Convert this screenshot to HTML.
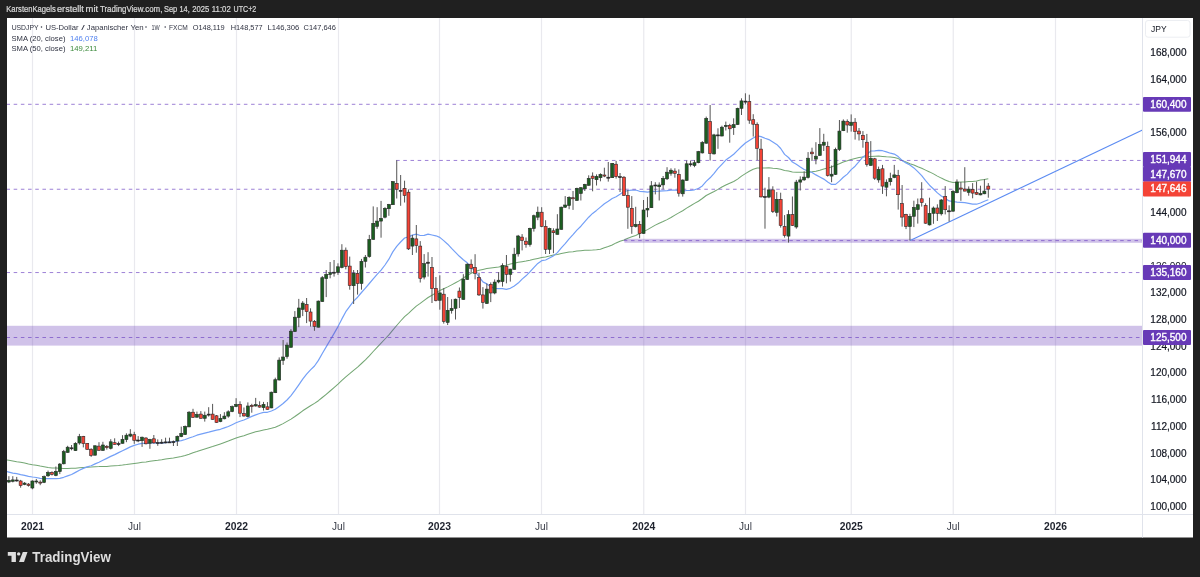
<!DOCTYPE html>
<html><head><meta charset="utf-8"><style>
html,body{margin:0;padding:0;background:#202020;width:1200px;height:577px;overflow:hidden;}
svg{display:block;will-change:transform;}
</style></head><body>
<svg width="1200" height="577" viewBox="0 0 1200 577">
<rect x="0" y="0" width="1200" height="577" fill="#202020"/><rect x="7" y="18" width="1186" height="519.5" fill="#ffffff"/><defs><clipPath id="pane"><rect x="7" y="18" width="1135.5" height="496.5"/></clipPath></defs><g stroke="#e9e9ee" stroke-width="1.2"><line x1="32.5" y1="18" x2="32.5" y2="514.5" /><line x1="134.5" y1="18" x2="134.5" y2="514.5" /><line x1="236.5" y1="18" x2="236.5" y2="514.5" /><line x1="338.5" y1="18" x2="338.5" y2="514.5" /><line x1="439.5" y1="18" x2="439.5" y2="514.5" /><line x1="541.5" y1="18" x2="541.5" y2="514.5" /><line x1="643.75" y1="18" x2="643.75" y2="514.5" /><line x1="745.5" y1="18" x2="745.5" y2="514.5" /><line x1="851.25" y1="18" x2="851.25" y2="514.5" /><line x1="953.25" y1="18" x2="953.25" y2="514.5" /><line x1="1055.5" y1="18" x2="1055.5" y2="514.5" /></g><g clip-path="url(#pane)"><polyline points="5.0,459.6 8.9,460.3 12.8,461.0 16.7,461.7 20.6,462.3 24.6,463.1 28.5,464.0 32.4,464.7 36.3,465.3 40.2,466.1 44.1,466.8 48.1,467.6 52.0,468.0 55.9,468.0 59.8,468.2 63.7,468.5 67.6,468.4 71.6,468.3 75.5,468.2 79.4,467.7 83.3,467.4 87.2,467.2 91.2,467.0 95.1,466.7 99.0,466.6 102.9,466.4 106.8,466.5 110.7,466.1 114.7,465.8 118.6,465.5 122.5,465.1 126.4,464.6 130.3,464.0 134.2,463.5 138.2,462.9 142.1,462.3 146.0,461.9 149.9,461.3 153.8,460.7 157.8,460.3 161.7,459.8 165.6,459.1 169.5,458.5 173.4,457.9 177.3,457.2 181.3,456.5 185.2,455.5 189.1,454.2 193.0,452.8 196.9,451.6 200.8,450.3 204.8,449.0 208.7,447.7 212.6,446.5 216.5,445.2 220.4,443.9 224.4,442.5 228.3,441.1 232.2,439.6 236.1,438.1 240.0,436.8 243.9,435.7 247.9,434.3 251.8,433.0 255.7,431.8 259.6,430.9 263.5,430.1 267.4,429.3 271.4,428.3 275.3,427.2 279.2,425.5 283.1,423.6 287.0,421.4 291.0,419.1 294.9,416.5 298.8,413.7 302.7,410.8 306.6,408.2 310.5,405.8 314.5,403.4 318.4,400.7 322.3,397.5 326.2,394.3 330.1,391.0 334.0,387.6 338.0,384.2 341.9,380.3 345.8,376.9 349.7,373.7 353.6,370.3 357.6,367.1 361.5,363.5 365.4,359.8 369.3,355.8 373.2,351.5 377.1,347.3 381.1,343.1 385.0,339.0 388.9,334.8 392.8,330.1 396.7,325.5 400.6,321.0 404.6,316.7 408.5,313.3 412.4,309.6 416.3,306.1 420.2,303.4 424.2,300.4 428.1,297.5 432.0,295.2 435.9,292.9 439.8,290.5 443.7,288.8 447.7,286.9 451.6,284.9 455.5,282.8 459.4,280.6 463.3,278.0 467.2,275.5 471.2,273.3 475.1,271.5 479.0,270.3 482.9,269.4 486.8,268.6 490.8,268.1 494.7,267.6 498.6,267.1 502.5,266.2 506.4,265.3 510.3,264.1 514.3,263.2 518.2,262.3 522.1,261.7 526.0,261.1 529.9,260.2 533.8,259.2 537.8,258.4 541.7,257.6 545.6,256.9 549.5,256.0 553.4,255.0 557.4,254.4 561.3,253.4 565.2,252.7 569.1,252.1 573.0,251.7 576.9,251.1 580.9,250.7 584.8,250.3 588.7,250.2 592.6,250.0 596.5,249.7 600.4,249.3 604.4,247.8 608.3,246.6 612.2,245.0 616.1,242.9 620.0,241.2 624.0,239.9 627.9,238.2 631.8,236.8 635.7,235.4 639.6,233.6 643.5,231.6 647.5,229.6 651.4,227.4 655.3,225.1 659.2,223.2 663.1,221.5 667.1,219.6 671.0,217.5 674.9,215.1 678.8,212.9 682.7,210.7 686.6,208.1 690.6,205.8 694.5,203.4 698.4,201.2 702.3,198.5 706.2,195.5 710.1,193.5 714.1,191.5 718.0,189.4 721.9,187.0 725.8,185.0 729.7,183.2 733.7,181.5 737.6,179.1 741.5,176.1 745.4,173.6 749.3,171.3 753.2,169.2 757.2,168.1 761.1,167.9 765.0,167.9 768.9,167.7 772.8,168.2 776.7,168.4 780.7,169.2 784.6,170.4 788.5,171.1 792.4,172.1 796.3,172.2 800.3,172.3 804.2,172.3 808.1,172.2 812.0,171.8 815.9,171.3 819.8,170.3 823.8,169.0 827.7,168.0 831.6,167.0 835.5,165.3 839.4,163.7 843.3,162.0 847.3,160.8 851.2,159.5 855.1,158.4 859.0,157.6 862.9,156.9 866.9,156.8 870.8,156.5 874.7,156.2 878.6,156.0 882.5,156.4 886.4,156.8 890.4,157.1 894.3,157.6 898.2,158.6 902.1,160.6 906.0,162.0 909.9,163.7 913.9,165.1 917.8,166.7 921.7,168.2 925.6,170.1 929.5,171.9 933.5,173.9 937.4,176.1 941.3,178.1 945.2,179.9 949.1,181.6 953.0,182.5 957.0,182.2 960.9,182.0 964.8,182.1 968.7,181.6 972.6,181.5 976.5,180.9 980.5,180.0 984.4,179.6 988.3,178.8" fill="none" stroke="#74a774" stroke-width="1.05" stroke-linejoin="round"/><polyline points="5.0,471.2 8.9,472.1 12.8,473.1 16.7,473.7 20.6,474.6 24.6,475.3 28.5,476.4 32.4,477.0 36.3,477.5 40.2,478.3 44.1,478.7 48.1,478.5 52.0,478.7 55.9,478.7 59.8,478.3 63.7,477.3 67.6,475.9 71.6,474.5 75.5,472.4 79.4,470.3 83.3,468.4 87.2,466.9 91.2,465.7 95.1,463.9 99.0,462.2 102.9,460.3 106.8,458.4 110.7,456.4 114.7,454.6 118.6,452.6 122.5,450.8 126.4,448.9 130.3,446.9 134.2,445.4 138.2,444.2 142.1,443.4 146.0,443.3 149.9,442.8 153.8,442.8 157.8,443.1 161.7,443.1 165.6,442.7 169.5,442.1 173.4,441.9 177.3,441.2 181.3,440.6 185.2,439.5 189.1,438.0 193.0,436.7 196.9,435.2 200.8,434.2 204.8,433.2 208.7,432.2 212.6,431.1 216.5,430.2 220.4,429.3 224.4,427.9 228.3,426.5 232.2,424.7 236.1,422.8 240.0,421.3 243.9,420.0 247.9,418.2 251.8,416.4 255.7,414.9 259.6,413.5 263.5,412.4 267.4,412.3 271.4,411.0 275.3,409.3 279.2,406.4 283.1,403.5 287.0,400.0 291.0,395.6 294.9,390.4 298.8,384.8 302.7,379.2 306.6,374.2 310.5,369.9 314.5,366.0 318.4,360.4 322.3,353.5 326.2,346.9 330.1,340.2 334.0,333.6 338.0,326.6 341.9,318.9 345.8,311.7 349.7,306.4 353.6,301.1 357.6,297.2 361.5,292.5 365.4,288.1 369.3,283.5 373.2,278.8 377.1,274.4 381.1,270.2 385.0,265.0 388.9,259.2 392.8,251.9 396.7,246.4 400.6,242.0 404.6,238.0 408.5,236.9 412.4,235.1 416.3,234.1 420.2,235.5 424.2,235.3 428.1,234.2 432.0,235.0 435.9,235.8 439.8,237.4 443.7,240.6 447.7,244.2 451.6,248.4 455.5,252.3 459.4,256.3 463.3,259.8 467.2,262.8 471.2,267.1 475.1,271.4 479.0,276.6 482.9,281.9 486.8,283.9 490.8,286.7 494.7,288.5 498.6,288.6 502.5,288.7 506.4,289.3 510.3,288.3 514.3,286.0 518.2,283.1 522.1,279.1 526.0,275.8 529.9,271.8 533.8,267.6 537.8,263.4 541.7,260.7 545.6,260.0 549.5,258.0 553.4,255.9 557.4,252.6 561.3,247.9 565.2,243.7 569.1,238.9 573.0,234.7 576.9,230.1 580.9,226.2 584.8,221.7 588.7,217.2 592.6,213.4 596.5,210.4 600.4,207.1 604.4,203.7 608.3,201.2 612.2,198.5 616.1,196.8 620.0,194.3 624.0,191.6 627.9,190.5 631.8,190.2 635.7,190.0 639.6,191.3 643.5,191.6 647.5,192.1 651.4,191.5 655.3,191.3 659.2,191.2 663.1,190.9 667.1,190.6 671.0,190.2 674.9,190.0 678.8,190.9 682.7,191.1 686.6,190.5 690.6,190.5 694.5,189.8 698.4,188.5 702.3,185.9 706.2,181.4 710.1,177.8 714.1,173.3 718.0,168.4 721.9,164.3 725.8,160.1 729.7,157.3 733.7,154.2 737.6,150.4 741.5,146.5 745.4,143.0 749.3,140.5 753.2,138.0 757.2,135.8 761.1,136.6 765.0,138.3 768.9,139.6 772.8,142.0 776.7,144.4 780.7,148.5 784.6,154.4 788.5,157.5 792.4,162.0 796.3,164.3 800.3,167.0 804.2,169.5 808.1,171.0 812.0,172.5 815.9,174.9 819.8,177.0 823.8,179.1 827.7,181.9 831.6,184.4 835.5,184.4 839.4,181.1 843.3,177.3 847.3,174.1 851.2,169.6 855.1,166.2 859.0,161.7 862.9,156.9 866.9,154.4 870.8,151.0 874.7,150.8 878.6,150.3 882.5,150.7 886.4,151.9 890.4,153.2 894.3,154.1 898.2,156.6 902.1,160.4 906.0,162.9 909.9,165.0 913.9,167.9 917.8,171.6 921.7,175.7 925.6,180.6 929.5,185.2 933.5,189.0 937.4,192.9 941.3,196.0 945.2,198.2 949.1,200.9 953.0,201.5 957.0,202.2 960.9,202.3 964.8,202.7 968.7,203.3 972.6,204.2 976.5,204.2 980.5,203.0 984.4,201.2 988.3,199.8" fill="none" stroke="#74a0f7" stroke-width="1.2" stroke-linejoin="round"/><rect x="7" y="325.8" width="1135.5" height="19.8" fill="rgb(103,58,183)" fill-opacity="0.31"/><rect x="624.4" y="238.8" width="518.1" height="4" fill="rgb(103,58,183)" fill-opacity="0.31"/><line x1="6.48" y1="104.3" x2="1142.5" y2="104.3" stroke="rgb(110,70,195)" stroke-opacity="0.68" stroke-width="1" stroke-dasharray="3.55 3.644"/><line x1="396.1" y1="160.45" x2="1142.5" y2="160.45" stroke="rgb(110,70,195)" stroke-opacity="0.68" stroke-width="1" stroke-dasharray="3.55 3.644"/><line x1="6.48" y1="189.25" x2="1142.5" y2="189.25" stroke="rgb(110,70,195)" stroke-opacity="0.68" stroke-width="1" stroke-dasharray="3.55 3.644"/><line x1="623.78" y1="240.6" x2="1142.5" y2="240.6" stroke="rgb(110,70,195)" stroke-opacity="0.68" stroke-width="1" stroke-dasharray="3.55 3.644"/><line x1="6.48" y1="272.55" x2="1142.5" y2="272.55" stroke="rgb(110,70,195)" stroke-opacity="0.68" stroke-width="1" stroke-dasharray="3.55 3.644"/><line x1="6.48" y1="337.5" x2="1142.5" y2="337.5" stroke="rgb(110,70,195)" stroke-opacity="0.68" stroke-width="1" stroke-dasharray="3.55 3.644"/><line x1="910.2" y1="240.5" x2="1142.5" y2="129.9" stroke="#5b8bf2" stroke-width="1.1"/><line x1="8.88" y1="476.2" x2="8.88" y2="483.1" stroke="#555555" stroke-width="1"/><line x1="12.80" y1="476.2" x2="12.80" y2="482.4" stroke="#555555" stroke-width="1"/><line x1="16.72" y1="476.9" x2="16.72" y2="481.7" stroke="#555555" stroke-width="1"/><line x1="20.63" y1="479.9" x2="20.63" y2="487.7" stroke="#555555" stroke-width="1"/><line x1="24.55" y1="482.1" x2="24.55" y2="485.2" stroke="#555555" stroke-width="1"/><line x1="28.47" y1="483.1" x2="28.47" y2="486.6" stroke="#555555" stroke-width="1"/><line x1="32.39" y1="480.3" x2="32.39" y2="489.3" stroke="#555555" stroke-width="1"/><line x1="36.30" y1="478.9" x2="36.30" y2="483.8" stroke="#555555" stroke-width="1"/><line x1="40.22" y1="480.3" x2="40.22" y2="485.2" stroke="#555555" stroke-width="1"/><line x1="44.14" y1="475.5" x2="44.14" y2="483.1" stroke="#555555" stroke-width="1"/><line x1="48.06" y1="470.6" x2="48.06" y2="476.9" stroke="#555555" stroke-width="1"/><line x1="51.97" y1="471.3" x2="51.97" y2="475.5" stroke="#555555" stroke-width="1"/><line x1="55.89" y1="466.5" x2="55.89" y2="476.2" stroke="#555555" stroke-width="1"/><line x1="59.81" y1="463.0" x2="59.81" y2="474.1" stroke="#555555" stroke-width="1"/><line x1="63.73" y1="449.9" x2="63.73" y2="464.4" stroke="#555555" stroke-width="1"/><line x1="67.65" y1="445.8" x2="67.65" y2="452.7" stroke="#555555" stroke-width="1"/><line x1="71.56" y1="445.0" x2="71.56" y2="450.3" stroke="#555555" stroke-width="1"/><line x1="75.48" y1="442.2" x2="75.48" y2="451.0" stroke="#555555" stroke-width="1"/><line x1="79.40" y1="433.9" x2="79.40" y2="444.7" stroke="#555555" stroke-width="1"/><line x1="83.32" y1="435.9" x2="83.32" y2="447.4" stroke="#555555" stroke-width="1"/><line x1="87.23" y1="443.0" x2="87.23" y2="449.6" stroke="#555555" stroke-width="1"/><line x1="91.15" y1="448.3" x2="91.15" y2="456.9" stroke="#555555" stroke-width="1"/><line x1="95.07" y1="445.2" x2="95.07" y2="455.5" stroke="#555555" stroke-width="1"/><line x1="98.99" y1="442.2" x2="98.99" y2="450.5" stroke="#555555" stroke-width="1"/><line x1="102.90" y1="441.8" x2="102.90" y2="450.7" stroke="#555555" stroke-width="1"/><line x1="106.82" y1="445.0" x2="106.82" y2="449.6" stroke="#555555" stroke-width="1"/><line x1="110.74" y1="439.2" x2="110.74" y2="449.4" stroke="#555555" stroke-width="1"/><line x1="114.66" y1="438.3" x2="114.66" y2="444.7" stroke="#555555" stroke-width="1"/><line x1="118.57" y1="441.6" x2="118.57" y2="446.1" stroke="#555555" stroke-width="1"/><line x1="122.49" y1="435.2" x2="122.49" y2="443.6" stroke="#555555" stroke-width="1"/><line x1="126.41" y1="433.3" x2="126.41" y2="442.2" stroke="#555555" stroke-width="1"/><line x1="130.33" y1="429.2" x2="130.33" y2="437.2" stroke="#555555" stroke-width="1"/><line x1="134.25" y1="431.8" x2="134.25" y2="443.8" stroke="#555555" stroke-width="1"/><line x1="138.16" y1="436.1" x2="138.16" y2="442.2" stroke="#555555" stroke-width="1"/><line x1="142.08" y1="436.6" x2="142.08" y2="446.9" stroke="#555555" stroke-width="1"/><line x1="146.00" y1="437.2" x2="146.00" y2="444.4" stroke="#555555" stroke-width="1"/><line x1="149.92" y1="438.8" x2="149.92" y2="448.8" stroke="#555555" stroke-width="1"/><line x1="153.83" y1="435.0" x2="153.83" y2="443.6" stroke="#555555" stroke-width="1"/><line x1="157.75" y1="439.4" x2="157.75" y2="445.8" stroke="#555555" stroke-width="1"/><line x1="161.67" y1="439.2" x2="161.67" y2="443.8" stroke="#555555" stroke-width="1"/><line x1="165.59" y1="437.7" x2="165.59" y2="443.3" stroke="#555555" stroke-width="1"/><line x1="169.50" y1="437.7" x2="169.50" y2="442.9" stroke="#555555" stroke-width="1"/><line x1="173.42" y1="440.5" x2="173.42" y2="446.0" stroke="#555555" stroke-width="1"/><line x1="177.34" y1="435.5" x2="177.34" y2="446.0" stroke="#555555" stroke-width="1"/><line x1="181.26" y1="426.6" x2="181.26" y2="437.2" stroke="#555555" stroke-width="1"/><line x1="185.18" y1="425.5" x2="185.18" y2="434.9" stroke="#555555" stroke-width="1"/><line x1="189.09" y1="411.1" x2="189.09" y2="427.1" stroke="#555555" stroke-width="1"/><line x1="193.01" y1="408.8" x2="193.01" y2="417.7" stroke="#555555" stroke-width="1"/><line x1="196.93" y1="411.6" x2="196.93" y2="417.7" stroke="#555555" stroke-width="1"/><line x1="200.85" y1="411.1" x2="200.85" y2="418.5" stroke="#555555" stroke-width="1"/><line x1="204.76" y1="411.6" x2="204.76" y2="421.6" stroke="#555555" stroke-width="1"/><line x1="208.68" y1="407.2" x2="208.68" y2="416.6" stroke="#555555" stroke-width="1"/><line x1="212.60" y1="403.9" x2="212.60" y2="419.6" stroke="#555555" stroke-width="1"/><line x1="216.52" y1="415.0" x2="216.52" y2="422.9" stroke="#555555" stroke-width="1"/><line x1="220.43" y1="414.1" x2="220.43" y2="422.2" stroke="#555555" stroke-width="1"/><line x1="224.35" y1="412.2" x2="224.35" y2="419.4" stroke="#555555" stroke-width="1"/><line x1="228.27" y1="410.3" x2="228.27" y2="417.7" stroke="#555555" stroke-width="1"/><line x1="232.19" y1="405.5" x2="232.19" y2="412.2" stroke="#555555" stroke-width="1"/><line x1="236.11" y1="398.2" x2="236.11" y2="407.2" stroke="#555555" stroke-width="1"/><line x1="240.02" y1="401.3" x2="240.02" y2="417.1" stroke="#555555" stroke-width="1"/><line x1="243.94" y1="407.5" x2="243.94" y2="416.6" stroke="#555555" stroke-width="1"/><line x1="247.86" y1="402.4" x2="247.86" y2="417.5" stroke="#555555" stroke-width="1"/><line x1="251.78" y1="403.8" x2="251.78" y2="412.7" stroke="#555555" stroke-width="1"/><line x1="255.69" y1="397.9" x2="255.69" y2="406.6" stroke="#555555" stroke-width="1"/><line x1="259.61" y1="401.3" x2="259.61" y2="407.7" stroke="#555555" stroke-width="1"/><line x1="263.53" y1="401.9" x2="263.53" y2="410.5" stroke="#555555" stroke-width="1"/><line x1="267.45" y1="402.1" x2="267.45" y2="409.7" stroke="#555555" stroke-width="1"/><line x1="271.36" y1="391.6" x2="271.36" y2="408.2" stroke="#555555" stroke-width="1"/><line x1="275.28" y1="377.7" x2="275.28" y2="393.1" stroke="#555555" stroke-width="1"/><line x1="279.20" y1="357.4" x2="279.20" y2="380.5" stroke="#555555" stroke-width="1"/><line x1="283.12" y1="340.0" x2="283.12" y2="364.9" stroke="#555555" stroke-width="1"/><line x1="287.04" y1="342.5" x2="287.04" y2="358.7" stroke="#555555" stroke-width="1"/><line x1="290.95" y1="329.2" x2="290.95" y2="347.5" stroke="#555555" stroke-width="1"/><line x1="294.87" y1="311.1" x2="294.87" y2="331.9" stroke="#555555" stroke-width="1"/><line x1="298.79" y1="298.9" x2="298.79" y2="327.2" stroke="#555555" stroke-width="1"/><line x1="302.71" y1="301.1" x2="302.71" y2="316.1" stroke="#555555" stroke-width="1"/><line x1="306.62" y1="298.0" x2="306.62" y2="323.1" stroke="#555555" stroke-width="1"/><line x1="310.54" y1="308.3" x2="310.54" y2="326.6" stroke="#555555" stroke-width="1"/><line x1="314.46" y1="320.0" x2="314.46" y2="330.8" stroke="#555555" stroke-width="1"/><line x1="318.38" y1="300.5" x2="318.38" y2="327.5" stroke="#555555" stroke-width="1"/><line x1="322.29" y1="276.0" x2="322.29" y2="301.8" stroke="#555555" stroke-width="1"/><line x1="326.21" y1="270.0" x2="326.21" y2="297.1" stroke="#555555" stroke-width="1"/><line x1="330.13" y1="262.0" x2="330.13" y2="278.3" stroke="#555555" stroke-width="1"/><line x1="334.05" y1="260.0" x2="334.05" y2="276.6" stroke="#555555" stroke-width="1"/><line x1="337.97" y1="263.3" x2="337.97" y2="274.9" stroke="#555555" stroke-width="1"/><line x1="341.88" y1="244.2" x2="341.88" y2="268.3" stroke="#555555" stroke-width="1"/><line x1="345.80" y1="247.5" x2="345.80" y2="269.4" stroke="#555555" stroke-width="1"/><line x1="349.72" y1="256.6" x2="349.72" y2="289.7" stroke="#555555" stroke-width="1"/><line x1="353.64" y1="270.0" x2="353.64" y2="304.0" stroke="#555555" stroke-width="1"/><line x1="357.55" y1="270.0" x2="357.55" y2="294.6" stroke="#555555" stroke-width="1"/><line x1="361.47" y1="258.9" x2="361.47" y2="289.7" stroke="#555555" stroke-width="1"/><line x1="365.39" y1="255.0" x2="365.39" y2="267.5" stroke="#555555" stroke-width="1"/><line x1="369.31" y1="234.9" x2="369.31" y2="257.7" stroke="#555555" stroke-width="1"/><line x1="373.22" y1="206.4" x2="373.22" y2="239.7" stroke="#555555" stroke-width="1"/><line x1="377.14" y1="207.2" x2="377.14" y2="228.8" stroke="#555555" stroke-width="1"/><line x1="381.06" y1="200.9" x2="381.06" y2="237.7" stroke="#555555" stroke-width="1"/><line x1="384.98" y1="207.2" x2="384.98" y2="218.3" stroke="#555555" stroke-width="1"/><line x1="388.89" y1="203.9" x2="388.89" y2="215.8" stroke="#555555" stroke-width="1"/><line x1="392.81" y1="181.1" x2="392.81" y2="204.9" stroke="#555555" stroke-width="1"/><line x1="396.73" y1="160.3" x2="396.73" y2="198.5" stroke="#555555" stroke-width="1"/><line x1="400.65" y1="175.0" x2="400.65" y2="205.8" stroke="#555555" stroke-width="1"/><line x1="404.57" y1="180.7" x2="404.57" y2="202.5" stroke="#555555" stroke-width="1"/><line x1="408.48" y1="189.4" x2="408.48" y2="250.0" stroke="#555555" stroke-width="1"/><line x1="412.40" y1="234.9" x2="412.40" y2="255.0" stroke="#555555" stroke-width="1"/><line x1="416.32" y1="225.0" x2="416.32" y2="252.7" stroke="#555555" stroke-width="1"/><line x1="420.24" y1="241.1" x2="420.24" y2="282.5" stroke="#555555" stroke-width="1"/><line x1="424.15" y1="254.1" x2="424.15" y2="279.4" stroke="#555555" stroke-width="1"/><line x1="428.07" y1="252.2" x2="428.07" y2="276.6" stroke="#555555" stroke-width="1"/><line x1="431.99" y1="257.0" x2="431.99" y2="303.0" stroke="#555555" stroke-width="1"/><line x1="435.91" y1="277.0" x2="435.91" y2="301.4" stroke="#555555" stroke-width="1"/><line x1="439.82" y1="275.3" x2="439.82" y2="309.7" stroke="#555555" stroke-width="1"/><line x1="443.74" y1="288.1" x2="443.74" y2="323.6" stroke="#555555" stroke-width="1"/><line x1="447.66" y1="297.0" x2="447.66" y2="325.0" stroke="#555555" stroke-width="1"/><line x1="451.58" y1="299.2" x2="451.58" y2="313.6" stroke="#555555" stroke-width="1"/><line x1="455.50" y1="298.6" x2="455.50" y2="319.5" stroke="#555555" stroke-width="1"/><line x1="459.41" y1="287.5" x2="459.41" y2="308.0" stroke="#555555" stroke-width="1"/><line x1="463.33" y1="274.2" x2="463.33" y2="299.7" stroke="#555555" stroke-width="1"/><line x1="467.25" y1="263.3" x2="467.25" y2="280.0" stroke="#555555" stroke-width="1"/><line x1="471.17" y1="259.4" x2="471.17" y2="272.7" stroke="#555555" stroke-width="1"/><line x1="475.08" y1="254.2" x2="475.08" y2="279.4" stroke="#555555" stroke-width="1"/><line x1="479.00" y1="272.7" x2="479.00" y2="296.0" stroke="#555555" stroke-width="1"/><line x1="482.92" y1="287.1" x2="482.92" y2="308.6" stroke="#555555" stroke-width="1"/><line x1="486.84" y1="283.5" x2="486.84" y2="304.0" stroke="#555555" stroke-width="1"/><line x1="490.75" y1="282.4" x2="490.75" y2="302.1" stroke="#555555" stroke-width="1"/><line x1="494.67" y1="279.4" x2="494.67" y2="294.3" stroke="#555555" stroke-width="1"/><line x1="498.59" y1="272.2" x2="498.59" y2="283.3" stroke="#555555" stroke-width="1"/><line x1="502.51" y1="263.3" x2="502.51" y2="286.6" stroke="#555555" stroke-width="1"/><line x1="506.43" y1="255.0" x2="506.43" y2="283.3" stroke="#555555" stroke-width="1"/><line x1="510.34" y1="268.8" x2="510.34" y2="281.6" stroke="#555555" stroke-width="1"/><line x1="514.26" y1="247.8" x2="514.26" y2="269.7" stroke="#555555" stroke-width="1"/><line x1="518.18" y1="234.9" x2="518.18" y2="256.6" stroke="#555555" stroke-width="1"/><line x1="522.10" y1="234.1" x2="522.10" y2="250.4" stroke="#555555" stroke-width="1"/><line x1="526.01" y1="237.5" x2="526.01" y2="247.7" stroke="#555555" stroke-width="1"/><line x1="529.93" y1="227.7" x2="529.93" y2="246.6" stroke="#555555" stroke-width="1"/><line x1="533.85" y1="214.6" x2="533.85" y2="231.6" stroke="#555555" stroke-width="1"/><line x1="537.77" y1="206.6" x2="537.77" y2="220.2" stroke="#555555" stroke-width="1"/><line x1="541.68" y1="207.2" x2="541.68" y2="227.2" stroke="#555555" stroke-width="1"/><line x1="545.60" y1="220.2" x2="545.60" y2="254.0" stroke="#555555" stroke-width="1"/><line x1="549.52" y1="227.7" x2="549.52" y2="254.0" stroke="#555555" stroke-width="1"/><line x1="553.44" y1="228.3" x2="553.44" y2="253.2" stroke="#555555" stroke-width="1"/><line x1="557.36" y1="214.2" x2="557.36" y2="234.6" stroke="#555555" stroke-width="1"/><line x1="561.27" y1="206.6" x2="561.27" y2="229.7" stroke="#555555" stroke-width="1"/><line x1="565.19" y1="196.1" x2="565.19" y2="208.0" stroke="#555555" stroke-width="1"/><line x1="569.11" y1="196.3" x2="569.11" y2="209.2" stroke="#555555" stroke-width="1"/><line x1="573.03" y1="191.0" x2="573.03" y2="209.9" stroke="#555555" stroke-width="1"/><line x1="576.94" y1="187.7" x2="576.94" y2="200.8" stroke="#555555" stroke-width="1"/><line x1="580.86" y1="187.2" x2="580.86" y2="200.5" stroke="#555555" stroke-width="1"/><line x1="584.78" y1="183.8" x2="584.78" y2="191.0" stroke="#555555" stroke-width="1"/><line x1="588.70" y1="175.3" x2="588.70" y2="185.7" stroke="#555555" stroke-width="1"/><line x1="592.61" y1="172.4" x2="592.61" y2="191.3" stroke="#555555" stroke-width="1"/><line x1="596.53" y1="174.4" x2="596.53" y2="185.5" stroke="#555555" stroke-width="1"/><line x1="600.45" y1="173.3" x2="600.45" y2="181.3" stroke="#555555" stroke-width="1"/><line x1="604.37" y1="167.7" x2="604.37" y2="177.2" stroke="#555555" stroke-width="1"/><line x1="608.28" y1="162.0" x2="608.28" y2="181.6" stroke="#555555" stroke-width="1"/><line x1="612.20" y1="163.1" x2="612.20" y2="178.0" stroke="#555555" stroke-width="1"/><line x1="616.12" y1="160.9" x2="616.12" y2="178.6" stroke="#555555" stroke-width="1"/><line x1="620.04" y1="173.0" x2="620.04" y2="192.0" stroke="#555555" stroke-width="1"/><line x1="623.96" y1="176.1" x2="623.96" y2="195.7" stroke="#555555" stroke-width="1"/><line x1="627.87" y1="190.0" x2="627.87" y2="228.8" stroke="#555555" stroke-width="1"/><line x1="631.79" y1="196.1" x2="631.79" y2="233.8" stroke="#555555" stroke-width="1"/><line x1="635.71" y1="206.8" x2="635.71" y2="227.5" stroke="#555555" stroke-width="1"/><line x1="639.63" y1="221.0" x2="639.63" y2="238.2" stroke="#555555" stroke-width="1"/><line x1="643.54" y1="200.0" x2="643.54" y2="233.8" stroke="#555555" stroke-width="1"/><line x1="647.46" y1="196.9" x2="647.46" y2="217.2" stroke="#555555" stroke-width="1"/><line x1="651.38" y1="181.1" x2="651.38" y2="208.0" stroke="#555555" stroke-width="1"/><line x1="655.30" y1="182.2" x2="655.30" y2="194.4" stroke="#555555" stroke-width="1"/><line x1="659.21" y1="182.4" x2="659.21" y2="200.5" stroke="#555555" stroke-width="1"/><line x1="663.13" y1="176.0" x2="663.13" y2="189.4" stroke="#555555" stroke-width="1"/><line x1="667.05" y1="167.2" x2="667.05" y2="180.0" stroke="#555555" stroke-width="1"/><line x1="670.97" y1="168.3" x2="670.97" y2="175.7" stroke="#555555" stroke-width="1"/><line x1="674.89" y1="168.3" x2="674.89" y2="177.7" stroke="#555555" stroke-width="1"/><line x1="678.80" y1="169.4" x2="678.80" y2="196.6" stroke="#555555" stroke-width="1"/><line x1="682.72" y1="179.4" x2="682.72" y2="196.6" stroke="#555555" stroke-width="1"/><line x1="686.64" y1="160.5" x2="686.64" y2="180.8" stroke="#555555" stroke-width="1"/><line x1="690.56" y1="160.5" x2="690.56" y2="166.6" stroke="#555555" stroke-width="1"/><line x1="694.47" y1="160.0" x2="694.47" y2="167.2" stroke="#555555" stroke-width="1"/><line x1="698.39" y1="150.9" x2="698.39" y2="163.3" stroke="#555555" stroke-width="1"/><line x1="702.31" y1="141.1" x2="702.31" y2="153.5" stroke="#555555" stroke-width="1"/><line x1="706.23" y1="116.6" x2="706.23" y2="143.8" stroke="#555555" stroke-width="1"/><line x1="710.14" y1="105.0" x2="710.14" y2="160.5" stroke="#555555" stroke-width="1"/><line x1="714.06" y1="133.8" x2="714.06" y2="154.5" stroke="#555555" stroke-width="1"/><line x1="717.98" y1="128.3" x2="717.98" y2="148.8" stroke="#555555" stroke-width="1"/><line x1="721.90" y1="125.7" x2="721.90" y2="136.4" stroke="#555555" stroke-width="1"/><line x1="725.82" y1="121.6" x2="725.82" y2="130.5" stroke="#555555" stroke-width="1"/><line x1="729.73" y1="123.8" x2="729.73" y2="142.7" stroke="#555555" stroke-width="1"/><line x1="733.65" y1="118.3" x2="733.65" y2="134.9" stroke="#555555" stroke-width="1"/><line x1="737.57" y1="107.7" x2="737.57" y2="124.9" stroke="#555555" stroke-width="1"/><line x1="741.49" y1="98.3" x2="741.49" y2="115.0" stroke="#555555" stroke-width="1"/><line x1="745.40" y1="93.3" x2="745.40" y2="104.4" stroke="#555555" stroke-width="1"/><line x1="749.32" y1="94.7" x2="749.32" y2="123.8" stroke="#555555" stroke-width="1"/><line x1="753.24" y1="114.2" x2="753.24" y2="136.6" stroke="#555555" stroke-width="1"/><line x1="757.16" y1="122.4" x2="757.16" y2="160.2" stroke="#555555" stroke-width="1"/><line x1="761.07" y1="138.9" x2="761.07" y2="197.5" stroke="#555555" stroke-width="1"/><line x1="764.99" y1="187.7" x2="764.99" y2="228.7" stroke="#555555" stroke-width="1"/><line x1="768.91" y1="177.1" x2="768.91" y2="198.2" stroke="#555555" stroke-width="1"/><line x1="772.83" y1="186.3" x2="772.83" y2="213.0" stroke="#555555" stroke-width="1"/><line x1="776.75" y1="192.1" x2="776.75" y2="216.5" stroke="#555555" stroke-width="1"/><line x1="780.66" y1="192.7" x2="780.66" y2="227.6" stroke="#555555" stroke-width="1"/><line x1="784.58" y1="215.1" x2="784.58" y2="237.6" stroke="#555555" stroke-width="1"/><line x1="788.50" y1="210.2" x2="788.50" y2="242.6" stroke="#555555" stroke-width="1"/><line x1="792.42" y1="196.5" x2="792.42" y2="226.0" stroke="#555555" stroke-width="1"/><line x1="796.33" y1="179.9" x2="796.33" y2="228.7" stroke="#555555" stroke-width="1"/><line x1="800.25" y1="176.4" x2="800.25" y2="190.5" stroke="#555555" stroke-width="1"/><line x1="804.17" y1="171.3" x2="804.17" y2="180.8" stroke="#555555" stroke-width="1"/><line x1="808.09" y1="152.1" x2="808.09" y2="178.5" stroke="#555555" stroke-width="1"/><line x1="812.00" y1="147.7" x2="812.00" y2="161.0" stroke="#555555" stroke-width="1"/><line x1="815.92" y1="142.2" x2="815.92" y2="164.3" stroke="#555555" stroke-width="1"/><line x1="819.84" y1="128.1" x2="819.84" y2="155.8" stroke="#555555" stroke-width="1"/><line x1="823.76" y1="133.8" x2="823.76" y2="151.0" stroke="#555555" stroke-width="1"/><line x1="827.68" y1="141.6" x2="827.68" y2="176.6" stroke="#555555" stroke-width="1"/><line x1="831.59" y1="165.5" x2="831.59" y2="182.2" stroke="#555555" stroke-width="1"/><line x1="835.51" y1="147.7" x2="835.51" y2="175.0" stroke="#555555" stroke-width="1"/><line x1="839.43" y1="120.0" x2="839.43" y2="151.0" stroke="#555555" stroke-width="1"/><line x1="843.35" y1="119.4" x2="843.35" y2="131.1" stroke="#555555" stroke-width="1"/><line x1="847.26" y1="119.4" x2="847.26" y2="132.7" stroke="#555555" stroke-width="1"/><line x1="851.18" y1="114.4" x2="851.18" y2="131.6" stroke="#555555" stroke-width="1"/><line x1="855.10" y1="118.1" x2="855.10" y2="139.6" stroke="#555555" stroke-width="1"/><line x1="859.02" y1="128.0" x2="859.02" y2="140.5" stroke="#555555" stroke-width="1"/><line x1="862.93" y1="131.1" x2="862.93" y2="147.7" stroke="#555555" stroke-width="1"/><line x1="866.85" y1="133.9" x2="866.85" y2="166.6" stroke="#555555" stroke-width="1"/><line x1="870.77" y1="141.1" x2="870.77" y2="165.7" stroke="#555555" stroke-width="1"/><line x1="874.69" y1="157.9" x2="874.69" y2="179.9" stroke="#555555" stroke-width="1"/><line x1="878.60" y1="166.6" x2="878.60" y2="182.7" stroke="#555555" stroke-width="1"/><line x1="882.52" y1="164.9" x2="882.52" y2="193.9" stroke="#555555" stroke-width="1"/><line x1="886.44" y1="179.4" x2="886.44" y2="196.3" stroke="#555555" stroke-width="1"/><line x1="890.36" y1="172.7" x2="890.36" y2="185.5" stroke="#555555" stroke-width="1"/><line x1="894.28" y1="164.9" x2="894.28" y2="178.2" stroke="#555555" stroke-width="1"/><line x1="898.19" y1="169.9" x2="898.19" y2="209.6" stroke="#555555" stroke-width="1"/><line x1="902.11" y1="185.0" x2="902.11" y2="226.6" stroke="#555555" stroke-width="1"/><line x1="906.03" y1="213.8" x2="906.03" y2="229.1" stroke="#555555" stroke-width="1"/><line x1="909.95" y1="213.8" x2="909.95" y2="240.5" stroke="#555555" stroke-width="1"/><line x1="913.86" y1="200.7" x2="913.86" y2="227.1" stroke="#555555" stroke-width="1"/><line x1="917.78" y1="198.5" x2="917.78" y2="223.6" stroke="#555555" stroke-width="1"/><line x1="921.70" y1="182.2" x2="921.70" y2="206.6" stroke="#555555" stroke-width="1"/><line x1="925.62" y1="203.3" x2="925.62" y2="223.8" stroke="#555555" stroke-width="1"/><line x1="929.53" y1="197.7" x2="929.53" y2="225.5" stroke="#555555" stroke-width="1"/><line x1="933.45" y1="206.5" x2="933.45" y2="223.8" stroke="#555555" stroke-width="1"/><line x1="937.37" y1="204.3" x2="937.37" y2="221.0" stroke="#555555" stroke-width="1"/><line x1="941.29" y1="199.0" x2="941.29" y2="215.5" stroke="#555555" stroke-width="1"/><line x1="945.21" y1="186.1" x2="945.21" y2="214.4" stroke="#555555" stroke-width="1"/><line x1="949.12" y1="205.3" x2="949.12" y2="221.6" stroke="#555555" stroke-width="1"/><line x1="953.04" y1="190.2" x2="953.04" y2="211.6" stroke="#555555" stroke-width="1"/><line x1="956.96" y1="179.4" x2="956.96" y2="193.3" stroke="#555555" stroke-width="1"/><line x1="960.88" y1="182.0" x2="960.88" y2="200.8" stroke="#555555" stroke-width="1"/><line x1="964.79" y1="167.2" x2="964.79" y2="191.3" stroke="#555555" stroke-width="1"/><line x1="968.71" y1="186.4" x2="968.71" y2="195.7" stroke="#555555" stroke-width="1"/><line x1="972.63" y1="183.1" x2="972.63" y2="198.3" stroke="#555555" stroke-width="1"/><line x1="976.55" y1="181.6" x2="976.55" y2="194.9" stroke="#555555" stroke-width="1"/><line x1="980.46" y1="185.7" x2="980.46" y2="195.3" stroke="#555555" stroke-width="1"/><line x1="984.38" y1="179.1" x2="984.38" y2="194.2" stroke="#555555" stroke-width="1"/><line x1="988.30" y1="183.1" x2="988.30" y2="197.7" stroke="#555555" stroke-width="1"/><rect x="7.38" y="480.30" width="3" height="1.70" fill="#1b5e20" stroke="#2a2a2a" stroke-width="0.6"/><rect x="11.30" y="479.90" width="3" height="1.40" fill="#1b5e20" stroke="#2a2a2a" stroke-width="0.6"/><rect x="15.22" y="480.00" width="3" height="1.00" fill="#222222" stroke="#2a2a2a" stroke-width="0.6"/><rect x="19.13" y="481.00" width="3" height="4.50" fill="#f44336" stroke="#2a2a2a" stroke-width="0.6"/><rect x="23.05" y="483.10" width="3" height="1.40" fill="#1b5e20" stroke="#2a2a2a" stroke-width="0.6"/><rect x="26.97" y="484.10" width="3" height="1.40" fill="#f44336" stroke="#2a2a2a" stroke-width="0.6"/><rect x="30.89" y="481.00" width="3" height="7.00" fill="#1b5e20" stroke="#2a2a2a" stroke-width="0.6"/><rect x="34.80" y="481.00" width="3" height="1.00" fill="#1b5e20" stroke="#2a2a2a" stroke-width="0.6"/><rect x="38.72" y="482.10" width="3" height="1.00" fill="#f44336" stroke="#2a2a2a" stroke-width="0.6"/><rect x="42.64" y="476.60" width="3" height="5.80" fill="#1b5e20" stroke="#2a2a2a" stroke-width="0.6"/><rect x="46.56" y="472.40" width="3" height="3.40" fill="#1b5e20" stroke="#2a2a2a" stroke-width="0.6"/><rect x="50.47" y="472.40" width="3" height="2.00" fill="#f44336" stroke="#2a2a2a" stroke-width="0.6"/><rect x="54.39" y="471.30" width="3" height="4.20" fill="#1b5e20" stroke="#2a2a2a" stroke-width="0.6"/><rect x="58.31" y="464.10" width="3" height="7.50" fill="#1b5e20" stroke="#2a2a2a" stroke-width="0.6"/><rect x="62.23" y="451.60" width="3" height="12.20" fill="#1b5e20" stroke="#2a2a2a" stroke-width="0.6"/><rect x="66.15" y="447.20" width="3" height="5.30" fill="#1b5e20" stroke="#2a2a2a" stroke-width="0.6"/><rect x="70.06" y="447.80" width="3" height="1.00" fill="#222222" stroke="#2a2a2a" stroke-width="0.6"/><rect x="73.98" y="443.30" width="3" height="7.40" fill="#1b5e20" stroke="#2a2a2a" stroke-width="0.6"/><rect x="77.90" y="436.60" width="3" height="6.40" fill="#1b5e20" stroke="#2a2a2a" stroke-width="0.6"/><rect x="81.82" y="436.30" width="3" height="7.30" fill="#f44336" stroke="#2a2a2a" stroke-width="0.6"/><rect x="85.73" y="443.30" width="3" height="6.10" fill="#f44336" stroke="#2a2a2a" stroke-width="0.6"/><rect x="89.65" y="449.20" width="3" height="6.30" fill="#f44336" stroke="#2a2a2a" stroke-width="0.6"/><rect x="93.57" y="445.80" width="3" height="9.40" fill="#1b5e20" stroke="#2a2a2a" stroke-width="0.6"/><rect x="97.49" y="446.10" width="3" height="4.20" fill="#f44336" stroke="#2a2a2a" stroke-width="0.6"/><rect x="101.40" y="445.00" width="3" height="5.50" fill="#1b5e20" stroke="#2a2a2a" stroke-width="0.6"/><rect x="105.32" y="446.30" width="3" height="1.40" fill="#f44336" stroke="#2a2a2a" stroke-width="0.6"/><rect x="109.24" y="441.80" width="3" height="6.50" fill="#1b5e20" stroke="#2a2a2a" stroke-width="0.6"/><rect x="113.16" y="442.70" width="3" height="1.70" fill="#f44336" stroke="#2a2a2a" stroke-width="0.6"/><rect x="117.07" y="443.60" width="3" height="1.00" fill="#222222" stroke="#2a2a2a" stroke-width="0.6"/><rect x="120.99" y="439.30" width="3" height="4.00" fill="#1b5e20" stroke="#2a2a2a" stroke-width="0.6"/><rect x="124.91" y="435.20" width="3" height="4.40" fill="#1b5e20" stroke="#2a2a2a" stroke-width="0.6"/><rect x="128.83" y="434.10" width="3" height="2.00" fill="#1b5e20" stroke="#2a2a2a" stroke-width="0.6"/><rect x="132.75" y="434.70" width="3" height="5.60" fill="#f44336" stroke="#2a2a2a" stroke-width="0.6"/><rect x="136.66" y="440.00" width="3" height="1.00" fill="#222222" stroke="#2a2a2a" stroke-width="0.6"/><rect x="140.58" y="437.20" width="3" height="3.50" fill="#1b5e20" stroke="#2a2a2a" stroke-width="0.6"/><rect x="144.50" y="438.00" width="3" height="5.80" fill="#f44336" stroke="#2a2a2a" stroke-width="0.6"/><rect x="148.42" y="439.40" width="3" height="3.90" fill="#1b5e20" stroke="#2a2a2a" stroke-width="0.6"/><rect x="152.33" y="438.80" width="3" height="4.10" fill="#f44336" stroke="#2a2a2a" stroke-width="0.6"/><rect x="156.25" y="442.50" width="3" height="1.00" fill="#222222" stroke="#2a2a2a" stroke-width="0.6"/><rect x="160.17" y="442.20" width="3" height="1.00" fill="#222222" stroke="#2a2a2a" stroke-width="0.6"/><rect x="164.09" y="441.90" width="3" height="1.00" fill="#222222" stroke="#2a2a2a" stroke-width="0.6"/><rect x="168.00" y="441.90" width="3" height="1.00" fill="#222222" stroke="#2a2a2a" stroke-width="0.6"/><rect x="171.92" y="441.60" width="3" height="1.00" fill="#222222" stroke="#2a2a2a" stroke-width="0.6"/><rect x="175.84" y="436.30" width="3" height="4.70" fill="#1b5e20" stroke="#2a2a2a" stroke-width="0.6"/><rect x="179.76" y="433.30" width="3" height="3.30" fill="#1b5e20" stroke="#2a2a2a" stroke-width="0.6"/><rect x="183.68" y="426.30" width="3" height="8.30" fill="#1b5e20" stroke="#2a2a2a" stroke-width="0.6"/><rect x="187.59" y="412.20" width="3" height="14.70" fill="#1b5e20" stroke="#2a2a2a" stroke-width="0.6"/><rect x="191.51" y="412.20" width="3" height="5.20" fill="#f44336" stroke="#2a2a2a" stroke-width="0.6"/><rect x="195.43" y="414.40" width="3" height="2.80" fill="#1b5e20" stroke="#2a2a2a" stroke-width="0.6"/><rect x="199.35" y="414.10" width="3" height="4.20" fill="#f44336" stroke="#2a2a2a" stroke-width="0.6"/><rect x="203.26" y="415.20" width="3" height="3.10" fill="#1b5e20" stroke="#2a2a2a" stroke-width="0.6"/><rect x="207.18" y="414.10" width="3" height="1.00" fill="#222222" stroke="#2a2a2a" stroke-width="0.6"/><rect x="211.10" y="414.10" width="3" height="5.30" fill="#f44336" stroke="#2a2a2a" stroke-width="0.6"/><rect x="215.02" y="415.80" width="3" height="6.70" fill="#f44336" stroke="#2a2a2a" stroke-width="0.6"/><rect x="218.93" y="418.30" width="3" height="3.30" fill="#1b5e20" stroke="#2a2a2a" stroke-width="0.6"/><rect x="222.85" y="416.10" width="3" height="2.70" fill="#1b5e20" stroke="#2a2a2a" stroke-width="0.6"/><rect x="226.77" y="411.80" width="3" height="4.30" fill="#1b5e20" stroke="#2a2a2a" stroke-width="0.6"/><rect x="230.69" y="406.60" width="3" height="5.00" fill="#1b5e20" stroke="#2a2a2a" stroke-width="0.6"/><rect x="234.61" y="404.40" width="3" height="2.20" fill="#1b5e20" stroke="#2a2a2a" stroke-width="0.6"/><rect x="238.52" y="404.40" width="3" height="8.80" fill="#f44336" stroke="#2a2a2a" stroke-width="0.6"/><rect x="242.44" y="413.50" width="3" height="2.50" fill="#f44336" stroke="#2a2a2a" stroke-width="0.6"/><rect x="246.36" y="406.00" width="3" height="10.60" fill="#1b5e20" stroke="#2a2a2a" stroke-width="0.6"/><rect x="250.28" y="405.30" width="3" height="1.30" fill="#f44336" stroke="#2a2a2a" stroke-width="0.6"/><rect x="254.19" y="404.60" width="3" height="1.40" fill="#1b5e20" stroke="#2a2a2a" stroke-width="0.6"/><rect x="258.11" y="405.50" width="3" height="1.60" fill="#f44336" stroke="#2a2a2a" stroke-width="0.6"/><rect x="262.03" y="404.40" width="3" height="3.30" fill="#1b5e20" stroke="#2a2a2a" stroke-width="0.6"/><rect x="265.95" y="406.80" width="3" height="2.60" fill="#f44336" stroke="#2a2a2a" stroke-width="0.6"/><rect x="269.86" y="392.20" width="3" height="15.70" fill="#1b5e20" stroke="#2a2a2a" stroke-width="0.6"/><rect x="273.78" y="379.70" width="3" height="13.00" fill="#1b5e20" stroke="#2a2a2a" stroke-width="0.6"/><rect x="277.70" y="360.10" width="3" height="19.90" fill="#1b5e20" stroke="#2a2a2a" stroke-width="0.6"/><rect x="281.62" y="357.00" width="3" height="3.40" fill="#1b5e20" stroke="#2a2a2a" stroke-width="0.6"/><rect x="285.54" y="345.10" width="3" height="11.50" fill="#1b5e20" stroke="#2a2a2a" stroke-width="0.6"/><rect x="289.45" y="331.20" width="3" height="16.10" fill="#1b5e20" stroke="#2a2a2a" stroke-width="0.6"/><rect x="293.37" y="317.20" width="3" height="14.40" fill="#1b5e20" stroke="#2a2a2a" stroke-width="0.6"/><rect x="297.29" y="308.00" width="3" height="9.50" fill="#1b5e20" stroke="#2a2a2a" stroke-width="0.6"/><rect x="301.21" y="303.10" width="3" height="6.30" fill="#1b5e20" stroke="#2a2a2a" stroke-width="0.6"/><rect x="305.12" y="304.40" width="3" height="7.20" fill="#f44336" stroke="#2a2a2a" stroke-width="0.6"/><rect x="309.04" y="312.00" width="3" height="9.10" fill="#f44336" stroke="#2a2a2a" stroke-width="0.6"/><rect x="312.96" y="321.30" width="3" height="5.10" fill="#f44336" stroke="#2a2a2a" stroke-width="0.6"/><rect x="316.88" y="301.10" width="3" height="26.10" fill="#1b5e20" stroke="#2a2a2a" stroke-width="0.6"/><rect x="320.79" y="277.70" width="3" height="23.90" fill="#1b5e20" stroke="#2a2a2a" stroke-width="0.6"/><rect x="324.71" y="274.40" width="3" height="4.20" fill="#1b5e20" stroke="#2a2a2a" stroke-width="0.6"/><rect x="328.63" y="272.70" width="3" height="1.90" fill="#1b5e20" stroke="#2a2a2a" stroke-width="0.6"/><rect x="332.55" y="272.20" width="3" height="1.00" fill="#222222" stroke="#2a2a2a" stroke-width="0.6"/><rect x="336.47" y="266.80" width="3" height="5.60" fill="#1b5e20" stroke="#2a2a2a" stroke-width="0.6"/><rect x="340.38" y="250.20" width="3" height="17.30" fill="#1b5e20" stroke="#2a2a2a" stroke-width="0.6"/><rect x="344.30" y="250.20" width="3" height="16.40" fill="#f44336" stroke="#2a2a2a" stroke-width="0.6"/><rect x="348.22" y="266.10" width="3" height="19.40" fill="#f44336" stroke="#2a2a2a" stroke-width="0.6"/><rect x="352.14" y="273.10" width="3" height="12.60" fill="#1b5e20" stroke="#2a2a2a" stroke-width="0.6"/><rect x="356.05" y="273.30" width="3" height="10.20" fill="#f44336" stroke="#2a2a2a" stroke-width="0.6"/><rect x="359.97" y="261.30" width="3" height="22.20" fill="#1b5e20" stroke="#2a2a2a" stroke-width="0.6"/><rect x="363.89" y="257.20" width="3" height="4.10" fill="#1b5e20" stroke="#2a2a2a" stroke-width="0.6"/><rect x="367.81" y="239.40" width="3" height="17.20" fill="#1b5e20" stroke="#2a2a2a" stroke-width="0.6"/><rect x="371.72" y="223.30" width="3" height="16.10" fill="#1b5e20" stroke="#2a2a2a" stroke-width="0.6"/><rect x="375.64" y="221.10" width="3" height="5.30" fill="#1b5e20" stroke="#2a2a2a" stroke-width="0.6"/><rect x="379.56" y="218.30" width="3" height="2.80" fill="#1b5e20" stroke="#2a2a2a" stroke-width="0.6"/><rect x="383.48" y="208.30" width="3" height="8.90" fill="#1b5e20" stroke="#2a2a2a" stroke-width="0.6"/><rect x="387.39" y="204.40" width="3" height="4.30" fill="#1b5e20" stroke="#2a2a2a" stroke-width="0.6"/><rect x="391.31" y="181.60" width="3" height="23.10" fill="#1b5e20" stroke="#2a2a2a" stroke-width="0.6"/><rect x="395.23" y="183.30" width="3" height="5.90" fill="#f44336" stroke="#2a2a2a" stroke-width="0.6"/><rect x="399.15" y="190.30" width="3" height="1.00" fill="#222222" stroke="#2a2a2a" stroke-width="0.6"/><rect x="403.07" y="188.30" width="3" height="7.20" fill="#f44336" stroke="#2a2a2a" stroke-width="0.6"/><rect x="406.98" y="192.20" width="3" height="56.70" fill="#f44336" stroke="#2a2a2a" stroke-width="0.6"/><rect x="410.90" y="238.10" width="3" height="8.00" fill="#1b5e20" stroke="#2a2a2a" stroke-width="0.6"/><rect x="414.82" y="238.90" width="3" height="6.60" fill="#f44336" stroke="#2a2a2a" stroke-width="0.6"/><rect x="418.74" y="246.10" width="3" height="32.20" fill="#f44336" stroke="#2a2a2a" stroke-width="0.6"/><rect x="422.65" y="263.60" width="3" height="13.50" fill="#1b5e20" stroke="#2a2a2a" stroke-width="0.6"/><rect x="426.57" y="262.20" width="3" height="1.10" fill="#222222" stroke="#2a2a2a" stroke-width="0.6"/><rect x="430.49" y="267.40" width="3" height="21.20" fill="#f44336" stroke="#2a2a2a" stroke-width="0.6"/><rect x="434.41" y="288.40" width="3" height="12.20" fill="#f44336" stroke="#2a2a2a" stroke-width="0.6"/><rect x="438.32" y="292.90" width="3" height="7.40" fill="#1b5e20" stroke="#2a2a2a" stroke-width="0.6"/><rect x="442.24" y="294.20" width="3" height="27.20" fill="#f44336" stroke="#2a2a2a" stroke-width="0.6"/><rect x="446.16" y="310.30" width="3" height="12.20" fill="#1b5e20" stroke="#2a2a2a" stroke-width="0.6"/><rect x="450.08" y="308.40" width="3" height="2.20" fill="#1b5e20" stroke="#2a2a2a" stroke-width="0.6"/><rect x="454.00" y="299.20" width="3" height="9.20" fill="#1b5e20" stroke="#2a2a2a" stroke-width="0.6"/><rect x="457.91" y="291.10" width="3" height="6.40" fill="#f44336" stroke="#2a2a2a" stroke-width="0.6"/><rect x="461.83" y="279.20" width="3" height="20.30" fill="#1b5e20" stroke="#2a2a2a" stroke-width="0.6"/><rect x="465.75" y="264.20" width="3" height="15.20" fill="#1b5e20" stroke="#2a2a2a" stroke-width="0.6"/><rect x="469.67" y="264.20" width="3" height="4.10" fill="#f44336" stroke="#2a2a2a" stroke-width="0.6"/><rect x="473.58" y="267.50" width="3" height="5.80" fill="#f44336" stroke="#2a2a2a" stroke-width="0.6"/><rect x="477.50" y="277.50" width="3" height="17.40" fill="#f44336" stroke="#2a2a2a" stroke-width="0.6"/><rect x="481.42" y="294.90" width="3" height="7.50" fill="#f44336" stroke="#2a2a2a" stroke-width="0.6"/><rect x="485.34" y="289.10" width="3" height="14.40" fill="#1b5e20" stroke="#2a2a2a" stroke-width="0.6"/><rect x="489.25" y="284.40" width="3" height="8.60" fill="#f44336" stroke="#2a2a2a" stroke-width="0.6"/><rect x="493.17" y="282.10" width="3" height="10.90" fill="#1b5e20" stroke="#2a2a2a" stroke-width="0.6"/><rect x="497.09" y="280.20" width="3" height="1.70" fill="#1b5e20" stroke="#2a2a2a" stroke-width="0.6"/><rect x="501.01" y="265.50" width="3" height="16.10" fill="#1b5e20" stroke="#2a2a2a" stroke-width="0.6"/><rect x="504.93" y="266.40" width="3" height="8.00" fill="#f44336" stroke="#2a2a2a" stroke-width="0.6"/><rect x="508.84" y="269.10" width="3" height="5.30" fill="#1b5e20" stroke="#2a2a2a" stroke-width="0.6"/><rect x="512.76" y="254.20" width="3" height="15.20" fill="#1b5e20" stroke="#2a2a2a" stroke-width="0.6"/><rect x="516.68" y="236.00" width="3" height="17.90" fill="#1b5e20" stroke="#2a2a2a" stroke-width="0.6"/><rect x="520.60" y="237.10" width="3" height="3.40" fill="#f44336" stroke="#2a2a2a" stroke-width="0.6"/><rect x="524.51" y="241.20" width="3" height="3.20" fill="#f44336" stroke="#2a2a2a" stroke-width="0.6"/><rect x="528.43" y="228.30" width="3" height="16.30" fill="#1b5e20" stroke="#2a2a2a" stroke-width="0.6"/><rect x="532.35" y="215.70" width="3" height="12.90" fill="#1b5e20" stroke="#2a2a2a" stroke-width="0.6"/><rect x="536.27" y="212.20" width="3" height="5.00" fill="#1b5e20" stroke="#2a2a2a" stroke-width="0.6"/><rect x="540.18" y="212.20" width="3" height="14.20" fill="#f44336" stroke="#2a2a2a" stroke-width="0.6"/><rect x="544.10" y="226.40" width="3" height="22.90" fill="#f44336" stroke="#2a2a2a" stroke-width="0.6"/><rect x="548.02" y="228.30" width="3" height="21.00" fill="#1b5e20" stroke="#2a2a2a" stroke-width="0.6"/><rect x="551.94" y="230.80" width="3" height="1.90" fill="#f44336" stroke="#2a2a2a" stroke-width="0.6"/><rect x="555.86" y="229.00" width="3" height="5.40" fill="#1b5e20" stroke="#2a2a2a" stroke-width="0.6"/><rect x="559.77" y="207.20" width="3" height="22.20" fill="#1b5e20" stroke="#2a2a2a" stroke-width="0.6"/><rect x="563.69" y="205.00" width="3" height="2.20" fill="#1b5e20" stroke="#2a2a2a" stroke-width="0.6"/><rect x="567.61" y="197.30" width="3" height="8.20" fill="#1b5e20" stroke="#2a2a2a" stroke-width="0.6"/><rect x="571.53" y="197.70" width="3" height="1.10" fill="#f44336" stroke="#2a2a2a" stroke-width="0.6"/><rect x="575.44" y="188.30" width="3" height="12.20" fill="#1b5e20" stroke="#2a2a2a" stroke-width="0.6"/><rect x="579.36" y="187.70" width="3" height="5.80" fill="#1b5e20" stroke="#2a2a2a" stroke-width="0.6"/><rect x="583.28" y="184.40" width="3" height="4.40" fill="#1b5e20" stroke="#2a2a2a" stroke-width="0.6"/><rect x="587.20" y="178.30" width="3" height="7.00" fill="#1b5e20" stroke="#2a2a2a" stroke-width="0.6"/><rect x="591.11" y="176.10" width="3" height="2.20" fill="#f44336" stroke="#2a2a2a" stroke-width="0.6"/><rect x="595.03" y="176.40" width="3" height="3.30" fill="#1b5e20" stroke="#2a2a2a" stroke-width="0.6"/><rect x="598.95" y="174.40" width="3" height="3.30" fill="#1b5e20" stroke="#2a2a2a" stroke-width="0.6"/><rect x="602.87" y="175.00" width="3" height="1.10" fill="#f44336" stroke="#2a2a2a" stroke-width="0.6"/><rect x="606.78" y="177.20" width="3" height="1.00" fill="#222222" stroke="#2a2a2a" stroke-width="0.6"/><rect x="610.70" y="163.30" width="3" height="14.40" fill="#1b5e20" stroke="#2a2a2a" stroke-width="0.6"/><rect x="614.62" y="164.20" width="3" height="12.40" fill="#f44336" stroke="#2a2a2a" stroke-width="0.6"/><rect x="618.54" y="176.60" width="3" height="1.00" fill="#222222" stroke="#2a2a2a" stroke-width="0.6"/><rect x="622.46" y="177.20" width="3" height="18.30" fill="#f44336" stroke="#2a2a2a" stroke-width="0.6"/><rect x="626.37" y="195.30" width="3" height="11.90" fill="#f44336" stroke="#2a2a2a" stroke-width="0.6"/><rect x="630.29" y="208.30" width="3" height="18.10" fill="#f44336" stroke="#2a2a2a" stroke-width="0.6"/><rect x="634.21" y="224.40" width="3" height="2.20" fill="#1b5e20" stroke="#2a2a2a" stroke-width="0.6"/><rect x="638.13" y="224.40" width="3" height="9.10" fill="#f44336" stroke="#2a2a2a" stroke-width="0.6"/><rect x="642.04" y="210.00" width="3" height="23.50" fill="#1b5e20" stroke="#2a2a2a" stroke-width="0.6"/><rect x="645.96" y="208.30" width="3" height="1.70" fill="#1b5e20" stroke="#2a2a2a" stroke-width="0.6"/><rect x="649.88" y="185.80" width="3" height="21.90" fill="#1b5e20" stroke="#2a2a2a" stroke-width="0.6"/><rect x="653.80" y="185.00" width="3" height="1.00" fill="#222222" stroke="#2a2a2a" stroke-width="0.6"/><rect x="657.71" y="185.00" width="3" height="1.70" fill="#1b5e20" stroke="#2a2a2a" stroke-width="0.6"/><rect x="661.63" y="178.30" width="3" height="6.60" fill="#1b5e20" stroke="#2a2a2a" stroke-width="0.6"/><rect x="665.55" y="172.20" width="3" height="6.60" fill="#1b5e20" stroke="#2a2a2a" stroke-width="0.6"/><rect x="669.47" y="170.20" width="3" height="3.10" fill="#1b5e20" stroke="#2a2a2a" stroke-width="0.6"/><rect x="673.39" y="171.10" width="3" height="2.20" fill="#f44336" stroke="#2a2a2a" stroke-width="0.6"/><rect x="677.30" y="174.40" width="3" height="18.80" fill="#f44336" stroke="#2a2a2a" stroke-width="0.6"/><rect x="681.22" y="180.00" width="3" height="13.80" fill="#1b5e20" stroke="#2a2a2a" stroke-width="0.6"/><rect x="685.14" y="163.80" width="3" height="16.70" fill="#1b5e20" stroke="#2a2a2a" stroke-width="0.6"/><rect x="689.06" y="163.80" width="3" height="1.00" fill="#222222" stroke="#2a2a2a" stroke-width="0.6"/><rect x="692.97" y="162.70" width="3" height="2.80" fill="#1b5e20" stroke="#2a2a2a" stroke-width="0.6"/><rect x="696.89" y="151.60" width="3" height="11.10" fill="#1b5e20" stroke="#2a2a2a" stroke-width="0.6"/><rect x="700.81" y="142.50" width="3" height="10.40" fill="#1b5e20" stroke="#2a2a2a" stroke-width="0.6"/><rect x="704.73" y="118.30" width="3" height="24.90" fill="#1b5e20" stroke="#2a2a2a" stroke-width="0.6"/><rect x="708.64" y="121.60" width="3" height="31.90" fill="#f44336" stroke="#2a2a2a" stroke-width="0.6"/><rect x="712.56" y="134.90" width="3" height="19.00" fill="#1b5e20" stroke="#2a2a2a" stroke-width="0.6"/><rect x="716.48" y="134.90" width="3" height="1.00" fill="#222222" stroke="#2a2a2a" stroke-width="0.6"/><rect x="720.40" y="127.20" width="3" height="8.80" fill="#1b5e20" stroke="#2a2a2a" stroke-width="0.6"/><rect x="724.32" y="125.30" width="3" height="1.30" fill="#1b5e20" stroke="#2a2a2a" stroke-width="0.6"/><rect x="728.23" y="125.30" width="3" height="3.50" fill="#f44336" stroke="#2a2a2a" stroke-width="0.6"/><rect x="732.15" y="124.60" width="3" height="3.10" fill="#1b5e20" stroke="#2a2a2a" stroke-width="0.6"/><rect x="736.07" y="108.30" width="3" height="16.30" fill="#1b5e20" stroke="#2a2a2a" stroke-width="0.6"/><rect x="739.99" y="100.90" width="3" height="7.40" fill="#1b5e20" stroke="#2a2a2a" stroke-width="0.6"/><rect x="743.90" y="101.10" width="3" height="1.00" fill="#222222" stroke="#2a2a2a" stroke-width="0.6"/><rect x="747.82" y="101.60" width="3" height="18.60" fill="#f44336" stroke="#2a2a2a" stroke-width="0.6"/><rect x="751.74" y="119.70" width="3" height="4.50" fill="#f44336" stroke="#2a2a2a" stroke-width="0.6"/><rect x="755.66" y="124.40" width="3" height="23.90" fill="#f44336" stroke="#2a2a2a" stroke-width="0.6"/><rect x="759.57" y="149.10" width="3" height="47.80" fill="#f44336" stroke="#2a2a2a" stroke-width="0.6"/><rect x="763.49" y="196.50" width="3" height="1.00" fill="#222222" stroke="#2a2a2a" stroke-width="0.6"/><rect x="767.41" y="189.90" width="3" height="7.20" fill="#1b5e20" stroke="#2a2a2a" stroke-width="0.6"/><rect x="771.33" y="189.90" width="3" height="21.60" fill="#f44336" stroke="#2a2a2a" stroke-width="0.6"/><rect x="775.25" y="199.30" width="3" height="13.10" fill="#1b5e20" stroke="#2a2a2a" stroke-width="0.6"/><rect x="779.16" y="199.30" width="3" height="26.10" fill="#f44336" stroke="#2a2a2a" stroke-width="0.6"/><rect x="783.08" y="226.50" width="3" height="8.90" fill="#f44336" stroke="#2a2a2a" stroke-width="0.6"/><rect x="787.00" y="214.60" width="3" height="21.50" fill="#1b5e20" stroke="#2a2a2a" stroke-width="0.6"/><rect x="790.92" y="214.60" width="3" height="10.80" fill="#f44336" stroke="#2a2a2a" stroke-width="0.6"/><rect x="794.83" y="182.10" width="3" height="44.90" fill="#1b5e20" stroke="#2a2a2a" stroke-width="0.6"/><rect x="798.75" y="179.90" width="3" height="2.20" fill="#1b5e20" stroke="#2a2a2a" stroke-width="0.6"/><rect x="802.67" y="177.10" width="3" height="2.80" fill="#1b5e20" stroke="#2a2a2a" stroke-width="0.6"/><rect x="806.59" y="158.20" width="3" height="19.30" fill="#1b5e20" stroke="#2a2a2a" stroke-width="0.6"/><rect x="810.50" y="152.10" width="3" height="1.70" fill="#f44336" stroke="#2a2a2a" stroke-width="0.6"/><rect x="814.42" y="156.20" width="3" height="2.90" fill="#1b5e20" stroke="#2a2a2a" stroke-width="0.6"/><rect x="818.34" y="144.40" width="3" height="11.10" fill="#1b5e20" stroke="#2a2a2a" stroke-width="0.6"/><rect x="822.26" y="142.20" width="3" height="3.00" fill="#1b5e20" stroke="#2a2a2a" stroke-width="0.6"/><rect x="826.18" y="146.30" width="3" height="29.20" fill="#f44336" stroke="#2a2a2a" stroke-width="0.6"/><rect x="830.09" y="174.20" width="3" height="1.90" fill="#1b5e20" stroke="#2a2a2a" stroke-width="0.6"/><rect x="834.01" y="149.40" width="3" height="25.00" fill="#1b5e20" stroke="#2a2a2a" stroke-width="0.6"/><rect x="837.93" y="131.10" width="3" height="18.30" fill="#1b5e20" stroke="#2a2a2a" stroke-width="0.6"/><rect x="841.85" y="121.10" width="3" height="9.60" fill="#1b5e20" stroke="#2a2a2a" stroke-width="0.6"/><rect x="845.76" y="121.60" width="3" height="3.40" fill="#f44336" stroke="#2a2a2a" stroke-width="0.6"/><rect x="849.68" y="122.20" width="3" height="3.30" fill="#1b5e20" stroke="#2a2a2a" stroke-width="0.6"/><rect x="853.60" y="122.20" width="3" height="9.40" fill="#f44336" stroke="#2a2a2a" stroke-width="0.6"/><rect x="857.52" y="131.10" width="3" height="2.80" fill="#f44336" stroke="#2a2a2a" stroke-width="0.6"/><rect x="861.43" y="135.30" width="3" height="4.40" fill="#f44336" stroke="#2a2a2a" stroke-width="0.6"/><rect x="865.35" y="142.20" width="3" height="22.20" fill="#f44336" stroke="#2a2a2a" stroke-width="0.6"/><rect x="869.27" y="158.30" width="3" height="7.20" fill="#1b5e20" stroke="#2a2a2a" stroke-width="0.6"/><rect x="873.19" y="158.80" width="3" height="19.40" fill="#f44336" stroke="#2a2a2a" stroke-width="0.6"/><rect x="877.10" y="169.40" width="3" height="10.50" fill="#1b5e20" stroke="#2a2a2a" stroke-width="0.6"/><rect x="881.02" y="168.80" width="3" height="17.30" fill="#f44336" stroke="#2a2a2a" stroke-width="0.6"/><rect x="884.94" y="182.20" width="3" height="5.00" fill="#1b5e20" stroke="#2a2a2a" stroke-width="0.6"/><rect x="888.86" y="178.50" width="3" height="3.20" fill="#1b5e20" stroke="#2a2a2a" stroke-width="0.6"/><rect x="892.78" y="174.90" width="3" height="2.60" fill="#1b5e20" stroke="#2a2a2a" stroke-width="0.6"/><rect x="896.69" y="175.50" width="3" height="19.20" fill="#f44336" stroke="#2a2a2a" stroke-width="0.6"/><rect x="900.61" y="203.60" width="3" height="13.50" fill="#f44336" stroke="#2a2a2a" stroke-width="0.6"/><rect x="904.53" y="214.40" width="3" height="12.20" fill="#f44336" stroke="#2a2a2a" stroke-width="0.6"/><rect x="908.45" y="216.30" width="3" height="10.30" fill="#1b5e20" stroke="#2a2a2a" stroke-width="0.6"/><rect x="912.36" y="207.40" width="3" height="8.90" fill="#1b5e20" stroke="#2a2a2a" stroke-width="0.6"/><rect x="916.28" y="204.70" width="3" height="4.90" fill="#1b5e20" stroke="#2a2a2a" stroke-width="0.6"/><rect x="920.20" y="198.80" width="3" height="3.70" fill="#f44336" stroke="#2a2a2a" stroke-width="0.6"/><rect x="924.12" y="205.50" width="3" height="17.70" fill="#f44336" stroke="#2a2a2a" stroke-width="0.6"/><rect x="928.03" y="213.30" width="3" height="11.60" fill="#1b5e20" stroke="#2a2a2a" stroke-width="0.6"/><rect x="931.95" y="208.00" width="3" height="5.30" fill="#1b5e20" stroke="#2a2a2a" stroke-width="0.6"/><rect x="935.87" y="208.00" width="3" height="5.30" fill="#f44336" stroke="#2a2a2a" stroke-width="0.6"/><rect x="939.79" y="200.00" width="3" height="13.80" fill="#1b5e20" stroke="#2a2a2a" stroke-width="0.6"/><rect x="943.71" y="196.40" width="3" height="13.30" fill="#f44336" stroke="#2a2a2a" stroke-width="0.6"/><rect x="947.62" y="210.80" width="3" height="1.00" fill="#222222" stroke="#2a2a2a" stroke-width="0.6"/><rect x="951.54" y="191.30" width="3" height="19.90" fill="#1b5e20" stroke="#2a2a2a" stroke-width="0.6"/><rect x="955.46" y="182.00" width="3" height="10.70" fill="#1b5e20" stroke="#2a2a2a" stroke-width="0.6"/><rect x="959.38" y="188.00" width="3" height="1.10" fill="#f44336" stroke="#2a2a2a" stroke-width="0.6"/><rect x="963.29" y="189.10" width="3" height="2.00" fill="#f44336" stroke="#2a2a2a" stroke-width="0.6"/><rect x="967.21" y="189.10" width="3" height="3.30" fill="#1b5e20" stroke="#2a2a2a" stroke-width="0.6"/><rect x="971.13" y="189.40" width="3" height="3.70" fill="#f44336" stroke="#2a2a2a" stroke-width="0.6"/><rect x="975.05" y="192.40" width="3" height="1.80" fill="#f44336" stroke="#2a2a2a" stroke-width="0.6"/><rect x="978.96" y="193.50" width="3" height="1.40" fill="#1b5e20" stroke="#2a2a2a" stroke-width="0.6"/><rect x="982.88" y="191.10" width="3" height="2.70" fill="#1b5e20" stroke="#2a2a2a" stroke-width="0.6"/><rect x="986.80" y="186.10" width="3" height="3.00" fill="#f44336" stroke="#2a2a2a" stroke-width="0.6"/></g><line x1="1142.5" y1="18" x2="1142.5" y2="537.5" stroke="#e0e3eb" stroke-width="1"/><line x1="7" y1="514.5" x2="1193" y2="514.5" stroke="#e0e3eb" stroke-width="1"/><g font-family="Liberation Sans" font-size="10" fill="#131722" stroke="#131722" stroke-width="0.2"><text x="1186.5" y="55.7" text-anchor="end">168,000</text><text x="1186.5" y="82.5" text-anchor="end">164,000</text><text x="1186.5" y="135.9" text-anchor="end">156,000</text><text x="1186.5" y="216.1" text-anchor="end">144,000</text><text x="1186.5" y="296.2" text-anchor="end">132,000</text><text x="1186.5" y="323.0" text-anchor="end">128,000</text><text x="1186.5" y="349.7" text-anchor="end">124,000</text><text x="1186.5" y="376.4" text-anchor="end">120,000</text><text x="1186.5" y="403.1" text-anchor="end">116,000</text><text x="1186.5" y="429.9" text-anchor="end">112,000</text><text x="1186.5" y="456.6" text-anchor="end">108,000</text><text x="1186.5" y="483.3" text-anchor="end">104,000</text><text x="1186.5" y="510.0" text-anchor="end">100,000</text></g><text x="1186.5" y="269.5" text-anchor="end" font-family="Liberation Sans" font-size="10" fill="#131722">136,000</text><rect x="1145.5" y="20.5" width="44.5" height="16.7" rx="2.5" fill="#ffffff" stroke="#eceef2" stroke-width="1"/><text x="1151" y="32" font-family="Liberation Sans" font-size="8.5" fill="#131722">JPY</text><rect x="1143" y="96.90" width="48" height="14.9" rx="1" fill="#673ab7"/><text x="1186.5" y="107.7" text-anchor="end" font-family="Liberation Sans" font-size="10" fill="#ffffff" stroke="#ffffff" stroke-width="0.35">160,400</text><rect x="1143" y="152.10" width="48" height="14.9" rx="1" fill="#673ab7"/><text x="1186.5" y="162.9" text-anchor="end" font-family="Liberation Sans" font-size="10" fill="#ffffff" stroke="#ffffff" stroke-width="0.35">151,944</text><rect x="1143" y="166.80" width="48" height="14.9" rx="1" fill="#673ab7"/><text x="1186.5" y="177.6" text-anchor="end" font-family="Liberation Sans" font-size="10" fill="#ffffff" stroke="#ffffff" stroke-width="0.35">147,670</text><rect x="1143" y="181.60" width="48" height="14.9" rx="1" fill="#f44336"/><text x="1186.5" y="192.4" text-anchor="end" font-family="Liberation Sans" font-size="10" fill="#ffffff" stroke="#ffffff" stroke-width="0.35">147,646</text><rect x="1143" y="232.80" width="48" height="14.9" rx="1" fill="#673ab7"/><text x="1186.5" y="243.6" text-anchor="end" font-family="Liberation Sans" font-size="10" fill="#ffffff" stroke="#ffffff" stroke-width="0.35">140,000</text><rect x="1143" y="265.10" width="48" height="14.9" rx="1" fill="#673ab7"/><text x="1186.5" y="275.9" text-anchor="end" font-family="Liberation Sans" font-size="10" fill="#ffffff" stroke="#ffffff" stroke-width="0.35">135,160</text><rect x="1143" y="330.10" width="48" height="14.9" rx="1" fill="#673ab7"/><text x="1186.5" y="340.9" text-anchor="end" font-family="Liberation Sans" font-size="10" fill="#ffffff" stroke="#ffffff" stroke-width="0.35">125,500</text><g font-family="Liberation Sans" font-size="10"><text x="32.5" y="529.8" text-anchor="middle" font-weight="bold" fill="#1e222d" textLength="23" lengthAdjust="spacingAndGlyphs">2021</text><text x="134.5" y="529.8" text-anchor="middle" fill="#363a45">Jul</text><text x="236.5" y="529.8" text-anchor="middle" font-weight="bold" fill="#1e222d" textLength="23" lengthAdjust="spacingAndGlyphs">2022</text><text x="338.5" y="529.8" text-anchor="middle" fill="#363a45">Jul</text><text x="439.5" y="529.8" text-anchor="middle" font-weight="bold" fill="#1e222d" textLength="23" lengthAdjust="spacingAndGlyphs">2023</text><text x="541.5" y="529.8" text-anchor="middle" fill="#363a45">Jul</text><text x="643.75" y="529.8" text-anchor="middle" font-weight="bold" fill="#1e222d" textLength="23" lengthAdjust="spacingAndGlyphs">2024</text><text x="745.5" y="529.8" text-anchor="middle" fill="#363a45">Jul</text><text x="851.25" y="529.8" text-anchor="middle" font-weight="bold" fill="#1e222d" textLength="23" lengthAdjust="spacingAndGlyphs">2025</text><text x="953.25" y="529.8" text-anchor="middle" fill="#363a45">Jul</text><text x="1055.5" y="529.8" text-anchor="middle" font-weight="bold" fill="#1e222d" textLength="23" lengthAdjust="spacingAndGlyphs">2026</text></g><text x="11.65" y="30.3" font-family="Liberation Sans" font-size="7.9" fill="#2f3241" textLength="26.9" lengthAdjust="spacingAndGlyphs" >USDJPY</text><text x="45.45" y="30.3" font-family="Liberation Sans" font-size="7.9" fill="#2f3241" textLength="33.1" lengthAdjust="spacingAndGlyphs" >US-Dollar</text><text x="81.15" y="30.3" font-family="Liberation Sans" font-size="7.9" fill="#2f3241" textLength="3.5" lengthAdjust="spacingAndGlyphs" >/</text><text x="86.85" y="30.3" font-family="Liberation Sans" font-size="7.9" fill="#2f3241" textLength="41.3" lengthAdjust="spacingAndGlyphs" >Japanischer</text><text x="130.45" y="30.3" font-family="Liberation Sans" font-size="7.9" fill="#2f3241" textLength="13.3" lengthAdjust="spacingAndGlyphs" >Yen</text><text x="151.55" y="30.3" font-family="Liberation Sans" font-size="7.9" fill="#2f3241" textLength="8.2" lengthAdjust="spacingAndGlyphs" >1W</text><text x="168.95" y="30.3" font-family="Liberation Sans" font-size="7.9" fill="#2f3241" textLength="18.75" lengthAdjust="spacingAndGlyphs" >FXCM</text><circle cx="41.5" cy="26.9" r="0.75" fill="#2f3241"/><circle cx="146" cy="26.9" r="0.75" fill="#2f3241"/><circle cx="165.2" cy="26.9" r="0.75" fill="#2f3241"/><text x="192.7" y="30.3" font-family="Liberation Sans" font-size="7.9" fill="#2f3241" textLength="32" lengthAdjust="spacingAndGlyphs" >O148,119</text><text x="230.7" y="30.3" font-family="Liberation Sans" font-size="7.9" fill="#2f3241" textLength="32" lengthAdjust="spacingAndGlyphs" >H148,577</text><text x="267.4" y="30.3" font-family="Liberation Sans" font-size="7.9" fill="#2f3241" textLength="32" lengthAdjust="spacingAndGlyphs" >L146,306</text><text x="303.6" y="30.3" font-family="Liberation Sans" font-size="7.9" fill="#2f3241" textLength="32.3" lengthAdjust="spacingAndGlyphs" >C147,646</text><text x="11.5" y="40.8" font-family="Liberation Sans" font-size="7.9" fill="#2f3241" textLength="54" lengthAdjust="spacingAndGlyphs" >SMA (20, close)</text><text x="70.0" y="40.8" font-family="Liberation Sans" font-size="7.9" fill="#4f80f0" textLength="27.8" lengthAdjust="spacingAndGlyphs" >146,078</text><text x="11.5" y="51.3" font-family="Liberation Sans" font-size="7.9" fill="#2f3241" textLength="54" lengthAdjust="spacingAndGlyphs" >SMA (50, close)</text><text x="70.0" y="51.3" font-family="Liberation Sans" font-size="7.9" fill="#3d8b3d" textLength="27.3" lengthAdjust="spacingAndGlyphs" >149,211</text><text x="6.25" y="12.0" font-family="Liberation Sans" font-size="8.5" fill="#d9d9d9" textLength="49.6" lengthAdjust="spacingAndGlyphs" stroke="#d9d9d9" stroke-width="0.22">KarstenKagels</text><text x="57.05" y="12.0" font-family="Liberation Sans" font-size="8.5" fill="#d9d9d9" textLength="26.8" lengthAdjust="spacingAndGlyphs" stroke="#d9d9d9" stroke-width="0.22">erstellt</text><text x="85.55" y="12.0" font-family="Liberation Sans" font-size="8.5" fill="#d9d9d9" textLength="12.6" lengthAdjust="spacingAndGlyphs" stroke="#d9d9d9" stroke-width="0.22">mit</text><text x="99.95" y="12.0" font-family="Liberation Sans" font-size="8.5" fill="#d9d9d9" textLength="62.4" lengthAdjust="spacingAndGlyphs" stroke="#d9d9d9" stroke-width="0.22">TradingView.com,</text><text x="164.05" y="12.0" font-family="Liberation Sans" font-size="8.5" fill="#d9d9d9" textLength="13.2" lengthAdjust="spacingAndGlyphs" stroke="#d9d9d9" stroke-width="0.22">Sep</text><text x="179.55" y="12.0" font-family="Liberation Sans" font-size="8.5" fill="#d9d9d9" textLength="10.2" lengthAdjust="spacingAndGlyphs" stroke="#d9d9d9" stroke-width="0.22">14,</text><text x="192.35" y="12.0" font-family="Liberation Sans" font-size="8.5" fill="#d9d9d9" textLength="17.0" lengthAdjust="spacingAndGlyphs" stroke="#d9d9d9" stroke-width="0.22">2025</text><text x="211.85" y="12.0" font-family="Liberation Sans" font-size="8.5" fill="#d9d9d9" textLength="18.9" lengthAdjust="spacingAndGlyphs" stroke="#d9d9d9" stroke-width="0.22">11:02</text><text x="233.55" y="12.0" font-family="Liberation Sans" font-size="8.5" fill="#d9d9d9" textLength="22.7" lengthAdjust="spacingAndGlyphs" stroke="#d9d9d9" stroke-width="0.22">UTC+2</text><g fill="#dedede"><path d="M7.8 551.9 H15.9 V562 H11.5 V555.8 H7.8 Z"/><circle cx="18.7" cy="553.9" r="1.7"/><path d="M22.8 551.9 H27.5 L24 562 H19 Z"/></g><text x="32.3" y="562" font-family="Liberation Sans" font-size="14.3" fill="#dedede" textLength="78.5" lengthAdjust="spacingAndGlyphs" font-weight="bold">TradingView</text>
</svg>
</body></html>
